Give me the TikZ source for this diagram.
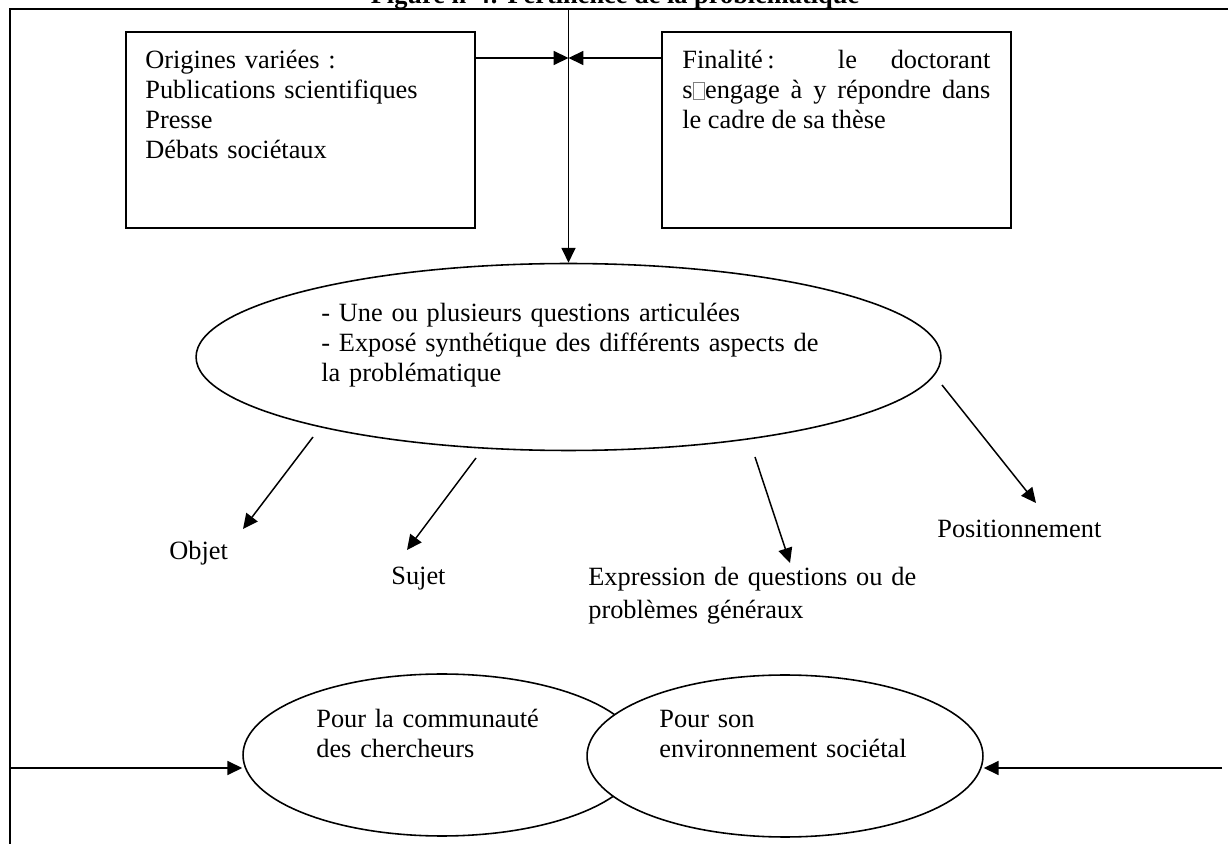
\documentclass[tikz,border=0pt]{standalone}
\usepackage{fontspec}
\setmainfont{Liberation Serif}
\usetikzlibrary{shapes.geometric,arrows.meta}
\newcommand{\carre}{{\color{gray}\fboxsep=0pt\fboxrule=0.4pt\fbox{\rule{0pt}{0.62em}\hspace{0.42em}}}}

\begin{document}
\begin{tikzpicture}[x=0.02cm,y=-0.02cm,
            txt/.style={anchor=base west,inner sep=0pt,align=left,font=\fontsize{15}{17}\selectfont},
            bloc/.style={txt,text width=12cm},
            boite/.style={draw,line width=0.9pt,inner sep=0pt},
            bulle/.style={ellipse,draw,line width=0.9pt,inner sep=0pt,fill=white},
            fleche/.style={line width=0.85pt,-{Triangle[length=8.5pt,width=8pt]}}]
            \useasboundingbox (0,0) rectangle (1232,844);

            \node (titre) at (615,4) [anchor=base,inner sep=0pt,font=\fontsize{15}{17}\selectfont\bfseries] {Figure n°4: Pertinence de la problématique};
            \draw[line width=1pt] (10,844) -- (10,9) -- (1228,9);

            \node (b1) at (300.5,130) [boite,minimum width=6.98cm,minimum height=3.92cm] {};
            \node (b2) at (836.5,130) [boite,minimum width=6.98cm,minimum height=3.92cm] {};
            \node (t1) at (145,69) [bloc] {Origines variées :\\Publications scientifiques\\Presse\\Débats sociétaux};
            \node (t2) at (682,69) [txt,text width=6.16cm,align=justify] {Finalité\,: le doctorant\linebreak s\carre engage à y répondre dans\linebreak le cadre de sa thèse};

            \node (e0) at (568.5,357) [bulle,minimum width=14.9cm,minimum height=3.74cm] {};
            \node (t3) at (321,322) [bloc] {- Une ou plusieurs questions articulées\\- Exposé synthétique des différents aspects de\\la problématique};

            \node (objet) at (169,560) [txt] {Objet};
            \node (sujet) at (391,585) [txt] {Sujet};
            \node (expr) at (588,586) [bloc] {Expression de questions ou de\\[1.5pt]problèmes généraux};
            \node (pos) at (937,538) [txt] {Positionnement};

            \node (e1) at (442,755) [bulle,minimum width=7.96cm,minimum height=3.24cm] {};
            \node (e2) at (785,756) [bulle,minimum width=7.92cm,minimum height=3.24cm] {};
            \node (t4) at (316,728) [bloc] {Pour la communauté\\des chercheurs};
            \node (t5) at (659,728) [bloc] {Pour son\\environnement sociétal};

            \coordinate (j) at (568.5,58);
            \coordinate (h) at (568.5,9);
            \coordinate (o1) at (313,437);  \coordinate (o2) at (243,529);
            \coordinate (s1) at (476,458);  \coordinate (s2) at (407,550);
            \coordinate (x1) at (755,457);  \coordinate (x2) at (790,563);
            \coordinate (p1) at (942,385);  \coordinate (p2) at (1036,503);
            \coordinate (g) at (10,768);
            \coordinate (d) at (1222,768);

            \draw[fleche] (b1.east |- j) -- (j);
            \draw[fleche] (b2.west |- j) -- (j);
            \draw[fleche] (h) -- (e0.north);
            \draw[fleche] (o1) -- (o2);
            \draw[fleche] (s1) -- (s2);
            \draw[fleche] (x1) -- (x2);
            \draw[fleche] (p1) -- (p2);
            \draw[fleche] (g) -- (e1.west |- g);
            \draw[fleche] (d) -- (e2.east |- d);

        \end{tikzpicture}
\end{document}
